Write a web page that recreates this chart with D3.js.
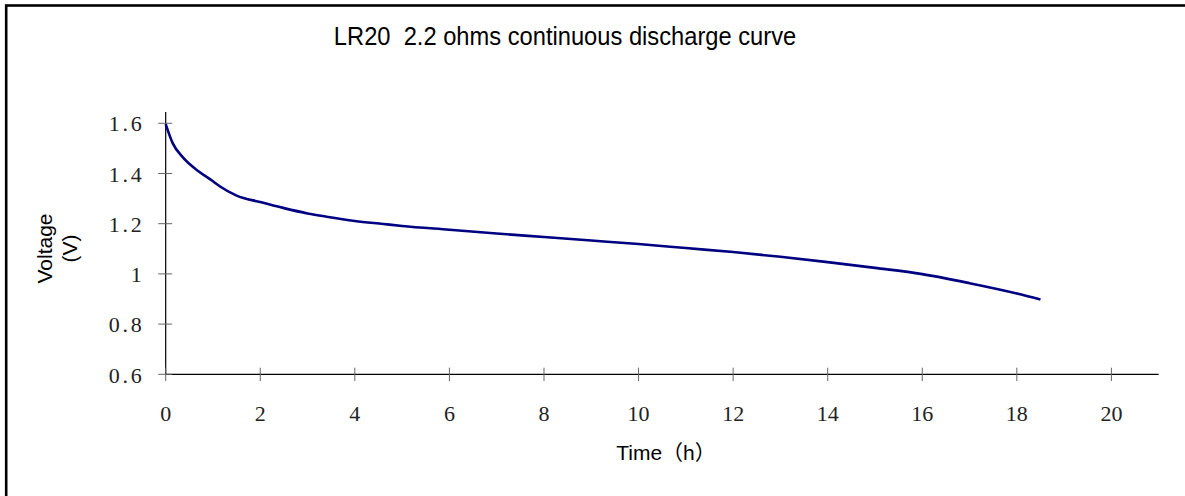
<!DOCTYPE html>
<html>
<head>
<meta charset="utf-8">
<script src="https://cdn.jsdelivr.net/npm/d3@7"></script>
<style>
  html, body { margin: 0; padding: 0; background: #fff; }
  svg { display: block; }
</style>
</head>
<body>
<svg id="chart" width="1185" height="496"></svg>
<script>
// ---- data ----
const timeH   = [0, 0.15, 0.35, 0.7, 1.0, 1.15, 1.5, 2, 2.5, 3, 3.4, 4, 4.6, 5, 6, 7, 8, 9, 10, 11, 12, 13, 14, 15, 16, 17, 18, 18.5];
const voltage = [1.597, 1.52, 1.467, 1.408, 1.369, 1.348, 1.312, 1.286, 1.262, 1.241, 1.228, 1.211, 1.199, 1.191, 1.176, 1.161, 1.147, 1.133, 1.119, 1.103, 1.087, 1.068, 1.047, 1.024, 0.999, 0.963, 0.922, 0.898];
const xTicks = [0, 2, 4, 6, 8, 10, 12, 14, 16, 18, 20];
const xTickLabels = ["0", "2", "4", "6", "8", "10", "12", "14", "16", "18", "20"];
const yTicks = [0.6, 0.8, 1.0, 1.2, 1.4, 1.6];
const yTickLabels = ["0.6", "0.8", "1", "1.2", "1.4", "1.6"];
const titleText = "LR20\u00a0\u00a02.2 ohms continuous discharge curve";
const xTitle = "Time\uff08h\uff09";
const yTitleLines = ["Voltage", "(V)"];

// ---- layout ----
const svg = d3.select("#chart");
const x = d3.scaleLinear().domain([0, 21]).range([165.7, 1158.7]);
const y = d3.scaleLinear().domain([0.6, 1.645]).range([374.3, 112]);

// outer frame (left & top visible)
svg.append("rect")
  .attr("x", 6.2).attr("y", 5.5)
  .attr("width", 1300).attr("height", 600)
  .attr("fill", "none").attr("stroke", "#000").attr("stroke-width", 2.6);

// title
svg.append("text")
  .attr("transform", "translate(565,45) scale(1,1.1)")
  .attr("text-anchor", "middle")
  .attr("font-family", "Liberation Sans, Arial, sans-serif")
  .attr("font-size", 23.7)
  .attr("fill", "#000")
  .text(titleText);

// axes lines
svg.append("line")
  .attr("x1", x(0)).attr("x2", x(21))
  .attr("y1", y(0.6)).attr("y2", y(0.6))
  .attr("stroke", "#000").attr("stroke-width", 1.2);
svg.append("line")
  .attr("x1", x(0)).attr("x2", x(0))
  .attr("y1", y(0.6)).attr("y2", y(1.645))
  .attr("stroke", "#000").attr("stroke-width", 1.2);

// x ticks (crossing)
svg.selectAll("line.xt").data(xTicks).enter().append("line")
  .attr("class", "xt")
  .attr("x1", d => x(d)).attr("x2", d => x(d))
  .attr("y1", y(0.6) - 6.6).attr("y2", y(0.6) + 6.7)
  .attr("stroke", "#666").attr("stroke-width", 1);
svg.selectAll("text.xl").data(xTicks).enter().append("text")
  .attr("class", "xl")
  .attr("x", d => x(d)).attr("y", y(0.6) + 46.5)
  .attr("text-anchor", "middle")
  .attr("font-family", "Liberation Serif, DejaVu Serif, serif")
  .attr("font-size", 22)
  .attr("fill", "#222")
  .text((d, i) => xTickLabels[i]);

// y ticks (crossing)
svg.selectAll("line.yt").data(yTicks).enter().append("line")
  .attr("class", "yt")
  .attr("x1", x(0) - 7.5).attr("x2", x(0) + 6.5)
  .attr("y1", d => y(d)).attr("y2", d => y(d))
  .attr("stroke", "#666").attr("stroke-width", 1);
svg.selectAll("text.yl").data(yTicks).enter().append("text")
  .attr("class", "yl")
  .attr("x", x(0) - 24 + 2.75).attr("y", d => y(d) + 8.2)
  .attr("text-anchor", "end")
  .attr("letter-spacing", "2.75px")
  .attr("font-family", "Liberation Serif, DejaVu Serif, serif")
  .attr("font-size", 22)
  .attr("fill", "#222")
  .text((d, i) => yTickLabels[i]);

// axis titles
svg.append("text")
  .attr("x", 666).attr("y", 460)
  .attr("text-anchor", "middle")
  .attr("font-family", "Liberation Sans, Arial, 'Noto Sans CJK SC', sans-serif")
  .attr("font-size", 21)
  .attr("fill", "#000")
  .text(xTitle);

const yt = svg.append("text")
  .attr("transform", "translate(0,248.5) rotate(-90)")
  .attr("text-anchor", "middle")
  .attr("font-family", "Liberation Sans, Arial, sans-serif")
  .attr("font-size", 21)
  .attr("fill", "#000");
yt.append("tspan").attr("x", 0).attr("y", 51.7).text(yTitleLines[0]);
yt.append("tspan").attr("x", 0).attr("y", 77.3).text(yTitleLines[1]);

// curve
const pts = timeH.map((t, i) => [t, voltage[i]]);
svg.append("path")
  .datum(pts)
  .attr("fill", "none")
  .attr("stroke", "#000080")
  .attr("stroke-width", 2.6)
  .attr("stroke-linejoin", "round")
  .attr("d", d3.line().x(d => x(d[0])).y(d => y(d[1])).curve(d3.curveMonotoneX));
</script>
</body>
</html>
